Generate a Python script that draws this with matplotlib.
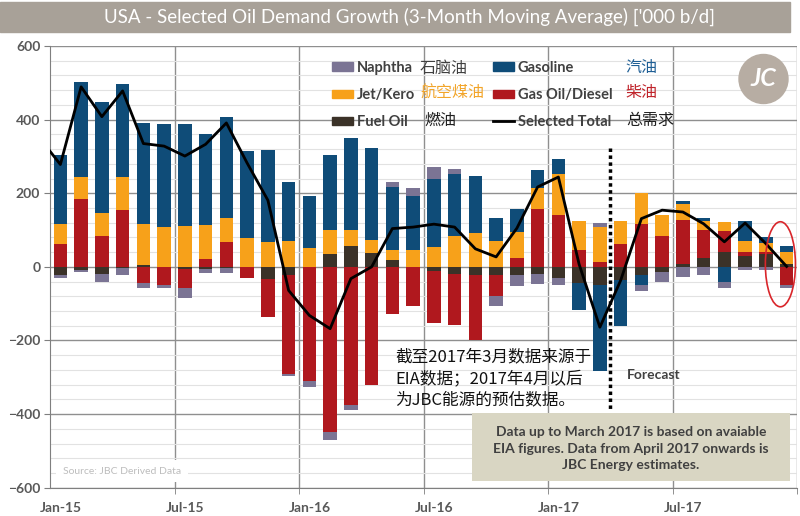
import numpy as np
import matplotlib
matplotlib.use("Agg")
import matplotlib.pyplot as plt
from matplotlib.patches import Rectangle, Ellipse, Patch
from matplotlib.lines import Line2D

# Monthly data, Jan-15 .. Dec-17 ('000 b/d)
months = ["Jan-15", "Jul-15", "Jan-16", "Jul-16", "Jan-17", "Jul-17"]
fuel_oil = [-23, -8, -20, -3, 5, 0, -6, -5, -4, 0, -32, -23,
            0, 34, 56, 37, 18, 0, -11, -19, -23, -23, -23, -20,
            -30, -43, -50, -37, -23, -14, 9, 25, 40, 29, 36, 9]
gas_oil = [61, 183, 83, 154, -44, -50, -51, 22, 67, -30, -105, -268,
           -311, -449, -375, -320, -127, -107, -142, -140, -175, -57, 25, 156,
           140, 47, 13, 61, 116, 83, 118, 74, 57, 11, 3, -48]
jet_kero = [55, 61, 63, 89, 112, 107, 110, 93, 65, 78, 68, 70,
            52, 65, 43, 37, 27, 45, 54, 83, 92, 70, 70, 58,
            112, 78, 95, 64, 85, 57, 45, 26, 25, 29, 27, 30]
gasoline = [188, 259, 301, 255, 275, 281, 277, 246, 275, 237, 249, 161,
            140, 204, 252, 248, 171, 148, 184, 169, 155, 63, 61, 49,
            41, -75, -233, -125, -27, 0, 6, 8, -42, 56, 15, 18]
naphtha = [-6, -7, -21, -20, -13, -7, -27, -12, -13, 0, 0, -6,
           -16, -21, -14, 0, 15, 22, 32, 13, 0, -27, -29, -26,
           -20, 0, 11, 0, -16, -26, -28, -21, -16, -8, -8, -9]
# selected total, starting with Dec-14
total = [350, 278, 489, 408, 478, 335, 328, 301, 333, 391, 282, 181, -64,
         -132, -168, -32, 0, 104, 108, 116, 108, 49, 27, 105, 217,
         244, 7, -164, -37, 131, 154, 149, 117, 68, 119, 63, 1]

c_naph = "#7b7494"
c_gaso = "#0f4c78"
c_jet = "#f7a11a"
c_dies = "#b0181e"
c_fuel = "#3b3228"
txt = "#404040"

plt.rcParams["font.family"] = ["Lato", "DejaVu Sans"]
cjk = ["Noto Sans CJK SC", "DejaVu Sans"]

fig = plt.figure(figsize=(8, 5.16), dpi=100)
ax = fig.add_axes([50 / 800, 1 - 487.7 / 516, 747 / 800, 441.7 / 516])

x = np.arange(len(fuel_oil))
pos = np.zeros(len(x))
neg = np.zeros(len(x))
series = [(fuel_oil, c_fuel), (gas_oil, c_dies), (jet_kero, c_jet),
          (gasoline, c_gaso), (naphtha, c_naph)]
for vals, col in series:
    v = np.array(vals, dtype=float)
    bottoms = np.where(v >= 0, pos, neg)
    ax.bar(x, v, bottom=bottoms, width=0.66, color=col, zorder=3)
    pos += np.clip(v, 0, None)
    neg += np.clip(v, None, 0)

ax.plot(np.arange(-1, len(x)), total, color="black", lw=2, zorder=5)

ax.set_xlim(-0.5, len(x) - 0.5)
ax.set_ylim(-600, 600)
ax.set_yticks(range(-600, 601, 200))
ax.set_yticks(range(-600, 601, 40), minor=True)
ax.grid(which="major", axis="y", color="#8f8f8f", lw=1, zorder=1)
ax.grid(which="minor", axis="y", color="#e2e2e2", lw=0.8, zorder=0)
for b in np.arange(5.5, len(x), 6):
    ax.axvline(b, color="#8f8f8f", lw=1, zorder=1)
ax.set_xticks(np.arange(0, len(x), 6), months)
ax.set_xticks(np.arange(5.5, len(x), 6), minor=True)
ax.tick_params(axis="x", which="major", length=0, pad=10)
ax.tick_params(axis="x", which="minor", length=4, color="#7f7f7f")
ax.tick_params(axis="y", which="major", length=4, color="#7f7f7f", pad=3)
ax.tick_params(axis="y", which="minor", length=0)
for lab in ax.get_xticklabels() + ax.get_yticklabels():
    lab.set_fontweight("bold")
    lab.set_fontsize(10)
    lab.set_color("#595959")
for s in ["top", "right"]:
    ax.spines[s].set_visible(False)
for s in ["left", "bottom"]:
    ax.spines[s].set_color("#7f7f7f")

# forecast divider
ax.plot([26.5, 26.5], [322, -385], color="black", lw=2.5,
        linestyle=(0, (1, 1)), zorder=4)
ax.text(28.6, -295, "Forecast", ha="center", va="center", fontsize=10,
        fontweight="bold", color=txt, zorder=6)

# legend
handles = [Patch(color=c_naph, label="Naphtha"),
           Patch(color=c_jet, label="Jet/Kero"),
           Patch(color=c_fuel, label="Fuel Oil"),
           Patch(color=c_gaso, label="Gasoline"),
           Patch(color=c_dies, label="Gas Oil/Diesel"),
           Line2D([], [], color="black", lw=2, label="Selected Total")]
leg = ax.legend(handles=handles, ncol=2, loc="upper left",
                bbox_to_anchor=((332 - 50) / 747, (487.7 - 61) / 441.7),
                frameon=False, borderpad=0, borderaxespad=0,
                handlelength=1.45, handleheight=0.55, handletextpad=0.25,
                labelspacing=0.9, columnspacing=5.35,
                prop={"family": "Lato", "weight": "bold", "size": 10.5})
for t in leg.get_texts():
    t.set_color(txt)

cn_labels = [("石脑油", 420, 68, "#404040"), ("航空煤油", 420, 93, "#f2a52a"),
             ("燃油", 424, 120, "#202020"), ("汽油", 625, 68, "#1f5f95"),
             ("柴油", 625, 93, "#c0242b"), ("总需求", 626, 120, "#202020")]
for s, px, py, col in cn_labels:
    ax.text((px - 50) / 747, (487.7 - py) / 441.7, s, transform=ax.transAxes,
            family=cjk, fontsize=11.5, color=col, ha="left", va="center")

# logo
ax.add_patch(Ellipse(((763.5 - 50) / 747, (487.7 - 79) / 441.7),
                     49 / 747, 49 / 441.7, transform=ax.transAxes,
                     color="#b7ada3", zorder=6, clip_on=False))
ax.text((763.5 - 50) / 747, (487.7 - 79) / 441.7, "JC", transform=ax.transAxes,
        ha="center", va="center", color="white", fontsize=18,
        fontweight="bold", style="italic", zorder=7)

# highlight last month
ax.add_patch(Ellipse((34.7, 7), 1.45, 231, fill=False, edgecolor="#d9262b",
                     lw=1.2, zorder=6, clip_on=False))

# notes
ax.text(16.13, -303, "截至2017年3月数据来源于\nEIA数据；2017年4月以后\n为JBC能源的预估数据。",
        family=cjk, fontsize=12, color="#111111", ha="left", va="center",
        linespacing=1.35, zorder=6)
ax.add_patch(Rectangle((19.84, -581), 15.32, 184, facecolor="#d9d6c3",
                       edgecolor="none", zorder=6))
ax.text(27.5, -494,
        "Data up to March 2017 is based on avaiable\nEIA figures. Data from April 2017 onwards is\nJBC Energy estimates.",
        ha="center", va="center", multialignment="center", fontsize=10,
        fontweight="bold", color=txt, linespacing=1.45, zorder=7)
ax.text((63 - 50) / 747, (487.7 - 471) / 441.7, "Source: JBC Derived Data",
        transform=ax.transAxes, fontsize=7.5, color="#bdbdbd", ha="left",
        va="center", zorder=6,
        bbox=dict(facecolor="white", edgecolor="none", pad=5))

# title band
fig.patches.append(Rectangle((0, 1 - 32 / 516), 790 / 800, 30 / 516,
                             transform=fig.transFigure, color="#a8a198",
                             zorder=0))
fig.text(409 / 800, 1 - 17 / 516,
         "USA - Selected Oil Demand Growth (3-Month Moving Average) ['000 b/d]",
         ha="center", va="center", color="white", fontsize=13.5)

fig.savefig("out.png", dpi=100)
